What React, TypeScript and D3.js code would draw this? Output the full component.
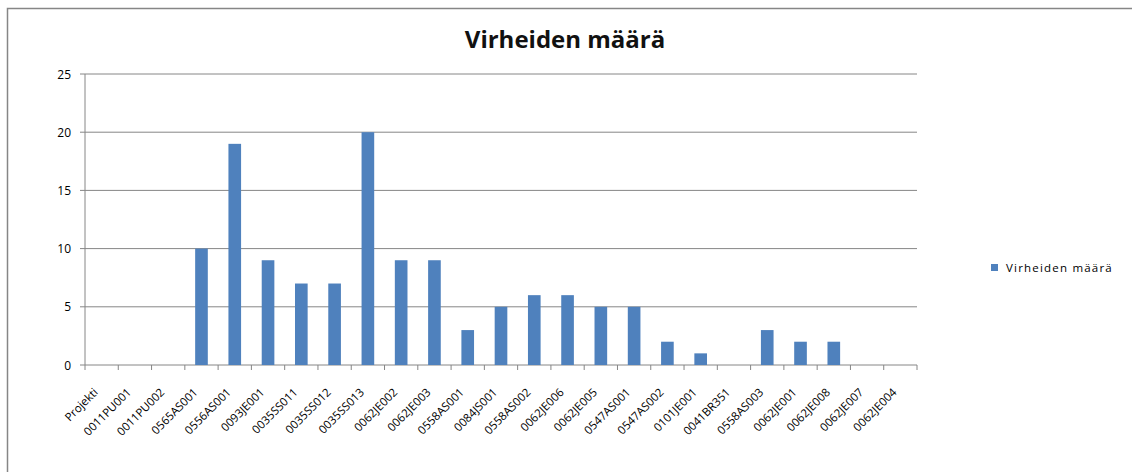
import React from 'react';
import * as d3 from 'd3';

const projects = [
  'Projekti', '0011PU001', '0011PU002', '0565AS001', '0556AS001', '0093JE001',
  '0035SS011', '0035SS012', '0035SS013', '0062JE002', '0062JE003', '0558AS001',
  '0084JS001', '0558AS002', '0062JE006', '0062JE005', '0547AS001', '0547AS002',
  '0101JE001', '0041BR351', '0558AS003', '0062JE001', '0062JE008', '0062JE007',
  '0062JE004',
];
const errorCounts = [0, 0, 0, 10, 19, 9, 7, 7, 20, 9, 9, 3, 5, 6, 6, 5, 5, 2, 1, 0, 3, 2, 2, 0, 0];
const yTicks = [0, 5, 10, 15, 20, 25];
const seriesName = 'Virheiden määrä';

const W = 1132;
const H = 472;
const left = 85;
const right = 917;
const top = 74;
const bottom = 365;
const font = '"Open Sans", Lato, sans-serif';
const barColor = '#4f81bd';
const gridColor = '#868686';

export default function App() {
  const x = d3.scaleBand<string>().domain(projects).range([left, right]).paddingInner(0.62).paddingOuter(0.31);
  const band = d3.scaleBand<string>().domain(projects).range([left, right]);
  const y = d3.scaleLinear().domain([0, 25]).range([bottom, top]);

  return (
    <svg width={W} height={H} style={{ position: 'absolute', left: 0, top: 0, background: '#fff' }}>
      <rect x={7.5} y={8.5} width={W + 10} height={H + 10} fill="#fff" stroke={gridColor} strokeWidth={1.5} />
      <text x={565} y={48} textAnchor="middle" fontFamily={font} fontWeight="bold" fontSize={24} fill="#111">
        Virheiden määrä
      </text>
      {yTicks.map((t) => (
        <g key={t}>
          <line x1={left - 5} x2={right} y1={y(t)} y2={y(t)} stroke={gridColor} strokeWidth={1} />
          <text x={left - 14} y={y(t) + 4.5} textAnchor="end" fontFamily={font} fontSize={12}>
            {t}
          </text>
        </g>
      ))}
      <line x1={left} x2={left} y1={top} y2={bottom} stroke={gridColor} />
      {projects.map((p) => (
        <line key={'t' + p} x1={band(p) ?? 0} x2={band(p) ?? 0} y1={bottom} y2={bottom + 5} stroke={gridColor} />
      ))}
      <line x1={right} x2={right} y1={bottom} y2={bottom + 5} stroke={gridColor} />
      {projects.map((p, i) => (
        <rect
          key={'b' + p}
          x={x(p)}
          y={y(errorCounts[i])}
          width={x.bandwidth()}
          height={bottom - y(errorCounts[i])}
          fill={barColor}
        />
      ))}
      {projects.map((p) => {
        const cx = (band(p) ?? 0) + band.bandwidth() / 2 - 3;
        return (
          <text
            key={'l' + p}
            transform={`translate(${cx},${bottom + 28}) rotate(-45)`}
            textAnchor="end"
            fontFamily={font}
            fontSize={11.5}
          >
            {p}
          </text>
        );
      })}
      <rect x={991} y={264} width={7} height={7} fill={barColor} />
      <text x={1006} y={272} fontFamily={font} fontSize={11.5} letterSpacing={1.2}>
        {seriesName}
      </text>
    </svg>
  );
}
